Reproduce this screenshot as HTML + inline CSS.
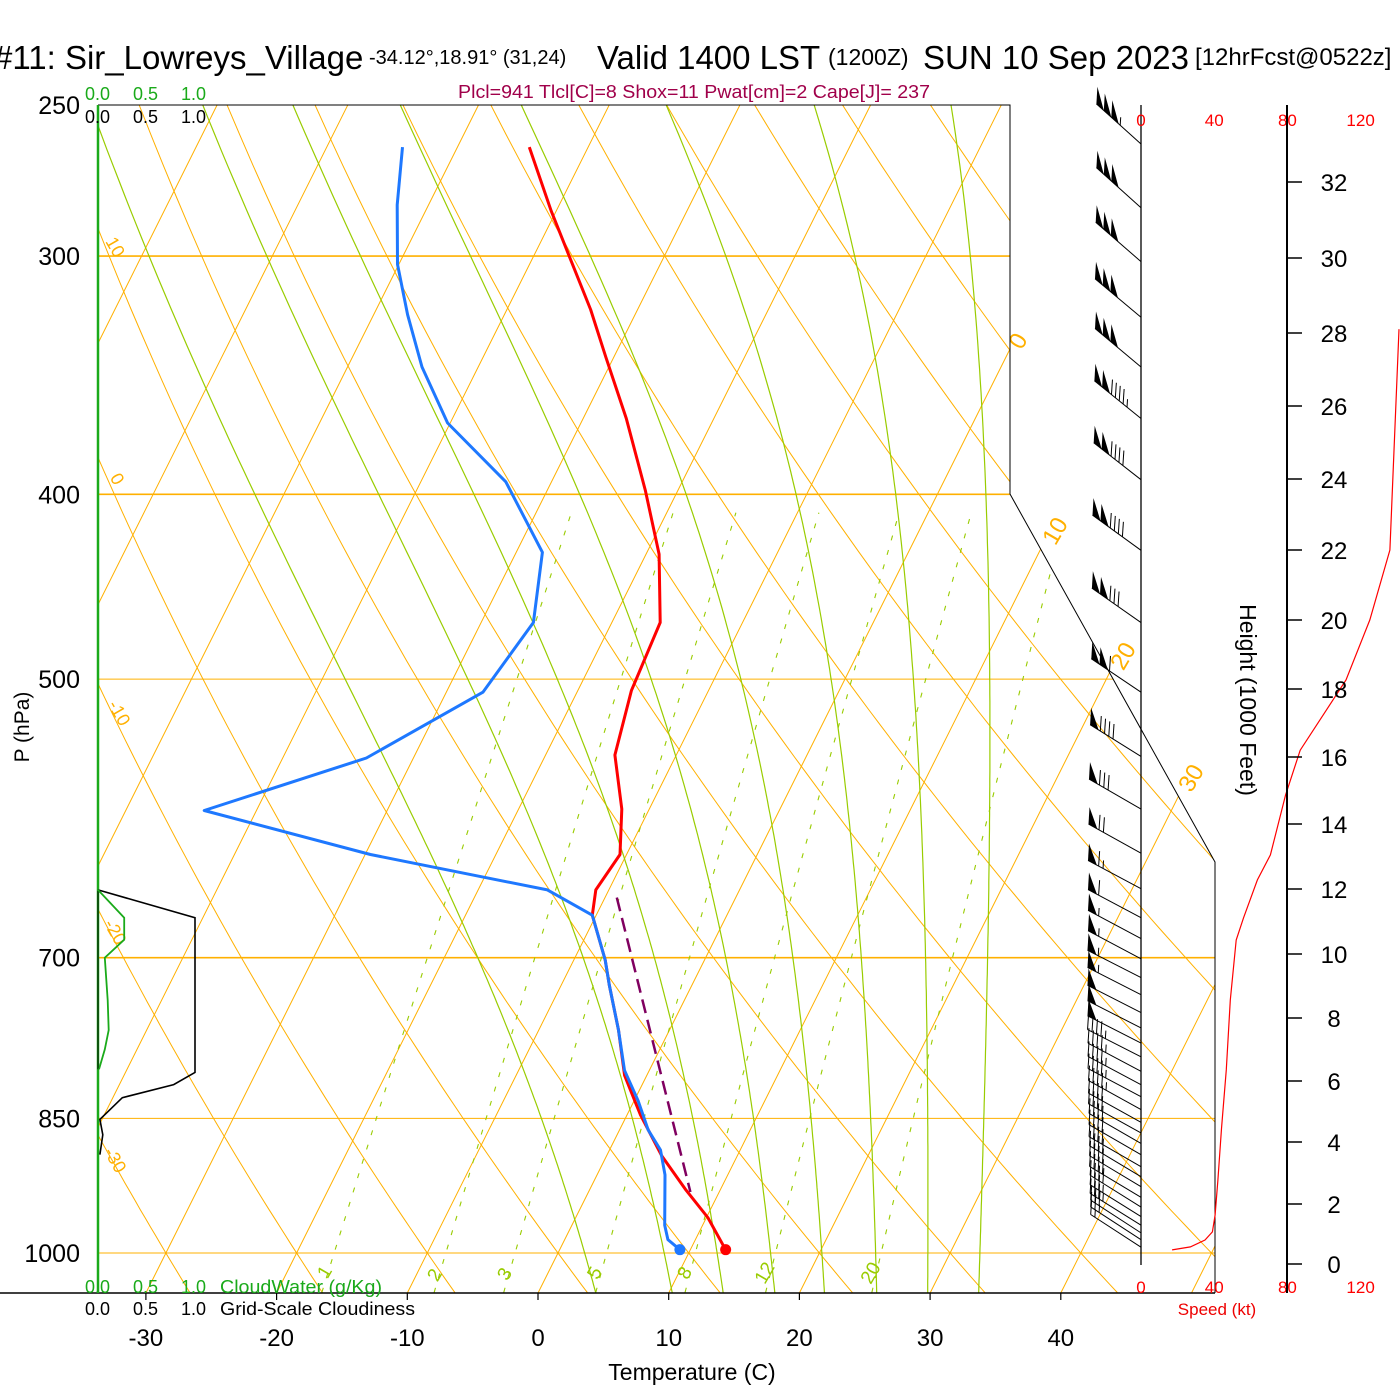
<!DOCTYPE html>
<html><head><meta charset="utf-8"><style>
html,body{margin:0;padding:0;background:#fff;}
svg{display:block;font-family:"Liberation Sans",sans-serif;}
</style></head><body>
<svg id="chart" width="1400" height="1400" viewBox="0 0 1400 1400" xmlns="http://www.w3.org/2000/svg">
<defs><clipPath id="bgclip"><polygon points="98,105 1010,105 1010,494 1215,862 1215,1293 98,1293"/></clipPath></defs>
<g id="bg" clip-path="url(#bgclip)"></g>
<g id="fg"></g>
<g>
<text x="-6" y="69" font-size="33">#11: Sir_Lowreys_Village</text>
<text x="369" y="64" font-size="20">-34.12°,18.91° (31,24)</text>
<text x="597" y="69" font-size="33">Valid 1400 LST</text>
<text x="828" y="65" font-size="23">(1200Z)</text>
<text x="923" y="69" font-size="33">SUN 10 Sep 2023</text>
<text x="1195" y="65" font-size="24">[12hrFcst@0522z]</text>
<text x="458" y="98" font-size="18" fill="#a0004a" textLength="472" lengthAdjust="spacingAndGlyphs">Plcl=941 Tlcl[C]=8 Shox=11 Pwat[cm]=2 Cape[J]= 237</text>
</g>
<g font-size="18">
<text x="85" y="100" fill="#1aaa1a">0.0</text>
<text x="133" y="100" fill="#1aaa1a">0.5</text>
<text x="181" y="100" fill="#1aaa1a">1.0</text>
<text x="85" y="123">0.0</text>
<text x="133" y="123">0.5</text>
<text x="181" y="123">1.0</text>
<text x="85" y="1293" fill="#1aaa1a">0.0</text>
<text x="133" y="1293" fill="#1aaa1a">0.5</text>
<text x="181" y="1293" fill="#1aaa1a">1.0</text>
<text x="220" y="1293" fill="#1aaa1a" textLength="162" lengthAdjust="spacingAndGlyphs">CloudWater (g/Kg)</text>
<text x="85" y="1315">0.0</text>
<text x="133" y="1315">0.5</text>
<text x="181" y="1315">1.0</text>
<text x="220" y="1315" textLength="195" lengthAdjust="spacingAndGlyphs">Grid-Scale Cloudiness</text>
</g>
<text x="0" y="0" font-size="21" transform="translate(29,727) rotate(-90)" text-anchor="middle">P (hPa)</text>
<text x="692" y="1380" font-size="23" text-anchor="middle">Temperature (C)</text>
<text x="1217" y="1315" font-size="17" fill="#e00" text-anchor="middle">Speed (kt)</text>
<text x="0" y="0" font-size="23" transform="translate(1240,700) rotate(90)" text-anchor="middle">Height (1000 Feet)</text>
</svg>
<script>
// ---- data ----
var pTemp=[996,958,927,889,846,807,764,724,702,665,645,618,585,548,507,467,430,398,365,339,320,302,284,263];
var tTemp=[12.7,10.1,7.4,4.2,1.0,-1.7,-3.9,-6.3,-7.6,-10.3,-11.0,-10.5,-12.1,-14.7,-15.9,-16.3,-19.0,-22.5,-26.7,-30.6,-33.6,-36.9,-40.4,-44.5];
var pDew=[996,984,967,910,883,862,832,802,764,724,702,665,645,618,586,550,508,467,429,394,367,343,322,303,282,263];
var tDew=[9.2,7.9,7.1,5.2,3.9,2.2,0.3,-1.9,-3.9,-6.3,-7.6,-10.3,-14.7,-29.6,-44.0,-33.6,-27.2,-26.0,-28.0,-33.5,-40.2,-44.3,-47.4,-50.1,-52.4,-54.2];
var pParcel=[651,929];
var tParcel=[-9.1,7.8];
var pressureTicks=[250,300,400,500,700,850,1000];
var tempTicks=[-30,-20,-10,0,10,20,30,40];
var isotherms=[-100,-90,-80,-70,-60,-50,-40,-30,-20,-10,0,10,20,30,40,50];
var dryAdiabats=[-30,-20,-10,0,10,20,30,40,50,60,70,80,90,100,110,120,130,140,150,160];
var moistStart=[4.4,10.25,14.15,18.1,21.9,25.9,29.8,33.7];
var mixRatios=[1,2,3,5,8,12,20];
var cloudP=[645,667,804,816,829,851,867,888];
var cloudFrac=[0,1,1,0.78,0.25,0.02,0.05,0.02];
var cwP=[645,667,685,700,737,764,782,801];
var cwVal=[0,0.27,0.27,0.07,0.1,0.11,0.07,0.01];
var barbP=[262,283,302,323,343,365,393,428,467,508,549,585,617,644,667,684,701,717,732,748,762,776,789,803,816,828,841,854,865,876,888,901,912,923,935,946,957,967,976,984,993];
var barbDir=[312,312,311,310,310,309,308,306,305,304,302,300,299,298,298,298,298,297,297,297,297,297,297,298,298,298,299,299,299,300,300,300,301,301,301,302,302,302,303,303,303];
var barbSpd=[155,150,150,150,150,145,140,140,130,110,90,80,70,65,60,55,55,55,55,52,50,48,47,46,45,44,43,42,42,41,41,40,40,40,40,39,37,35,30,24,17];
var heightTicks=[0,2,4,6,8,10,12,14,16,18,20,22,24,26,28,30,32];
var heightTickY=[1264,1204,1142,1081,1018,954,889,824,757,689,620,550,479,406,333,258,182];
var speedProfH=[0.47,0.57,0.8,1.07,1.63,2.77,4.44,6.36,8.56,10.43,11.11,12.28,13.05,14.87,16.2,18.26,20,22,28.1];
var speedProfV=[17,27,35,39,40.5,42,44,46.6,48.8,52,56,63.6,70.7,79,87,112,125,136,141];
var speedTicks=[0,40,80,120];

// ---- axes ----
var NS='http://www.w3.org/2000/svg';
function Y(p){return 1253+828*Math.log(p/1000);}
function X(T,p){return 538+13.07*T+0.5*(1293-Y(p));}
function SX(v){return 1141+v*1.83;}
function HY(h){for(var i=0;i<heightTicks.length-1;i++){if(h<=heightTicks[i+1]){var f=(h-heightTicks[i])/(heightTicks[i+1]-heightTicks[i]);return heightTickY[i]+f*(heightTickY[i+1]-heightTickY[i]);}}return heightTickY[heightTickY.length-1];}
var bg=document.getElementById('bg'),fg=document.getElementById('fg');
function mk(tag,attrs,parent){var e=document.createElementNS(NS,tag);for(var k in attrs)e.setAttribute(k,attrs[k]);(parent||fg).appendChild(e);return e;}
function pl(pts){return pts.map(function(q){return q[0].toFixed(1)+','+q[1].toFixed(1);}).join(' ');}
var PB=1049;
pressureTicks.forEach(function(p){
  var thick=(p==300||p==400||p==700);
  var x2=p>=700?1215:(p==500?1113:1010);
  if(p==250)return;
  var e=mk('line',{x1:98,y1:Y(p),x2:x2,y2:Y(p),stroke:'#ffb000','stroke-width':thick?1.6:1},bg);
  
  
});
isotherms.forEach(function(t){
  var e=mk('line',{x1:X(t,PB),y1:Y(PB),x2:X(t,250),y2:Y(250),stroke:'#ffb000','stroke-width':1},bg);
  
  
});
dryAdiabats.forEach(function(th){
  var pts=[];for(var p=PB;p>=240;p-=10){var T=(th+273.15)*Math.pow(p/1000,0.286)-273.15;pts.push([X(T,p),Y(p)]);}
  var e=mk('polyline',{points:pl(pts),fill:'none',stroke:'#ffb000','stroke-width':1},bg);
  
  
});
function es(Tc){return 6.112*Math.exp(17.67*Tc/(Tc+243.5));}
moistStart.forEach(function(t0){
  var T=t0+273.15,pts=[],p=PB;
  while(p>=240){pts.push([X(T-273.15,p),Y(p)]);
    var e_=es(T-273.15),rs=0.622*e_/(p-e_);
    var dTdp=(287*T+2.5e6*rs)/(p*(1004+2.5e6*2.5e6*rs*0.622/(287*T*T)));
    T-=dTdp*5;p-=5;}
  var e=mk('polyline',{points:pl(pts),fill:'none',stroke:'#99cc00','stroke-width':1.2},bg);
  
  
});
function tdFromW(w,p){var e=w*p/(622+w);var l=Math.log(e/6.112);return 243.5*l/(17.67-l);}
mixRatios.forEach(function(w){
  var pts=[];for(var p=PB;p>=400;p-=10)pts.push([X(tdFromW(w,p),p),Y(p)]);
  var e=mk('polyline',{points:pl(pts),fill:'none',stroke:'#99cc00','stroke-width':1.1,'stroke-dasharray':'5 10'},bg);
  
  
});
var dryLab=[['10',110,250],['0',112,482],['-10',114,716],['-20',110,935],['-30',110,1163]];
dryLab.forEach(function(d){var e=mk('text',{x:0,y:0,'font-size':18,fill:'#ffb000',transform:'translate('+d[1]+','+d[2]+') rotate(60)','text-anchor':'middle'});e.textContent=d[0];
  
  });
var isoLab=[['0',1025,345],['10',1062,535],['20',1130,660],['30',1198,782]];
isoLab.forEach(function(d){var e=mk('text',{x:0,y:0,'font-size':24,fill:'#ffb000',transform:'translate('+d[1]+','+d[2]+') rotate(-60)','text-anchor':'middle'});e.textContent=d[0];
  
  });
var mixLab=[['1',330,1275],['2',440,1278],['3',510,1277],['5',600,1276],['8',690,1276],['12',770,1276],['20',876,1276]];
mixLab.forEach(function(d){var e=mk('text',{x:0,y:0,'font-size':19,fill:'#99cc00',transform:'translate('+d[1]+','+d[2]+') rotate(-60)','text-anchor':'middle'});e.textContent=d[0];
  
  });

var fr=mk('polyline',{points:'98,105 1010,105 1010,494 1215,862 1215,1293',fill:'none',stroke:'#000','stroke-width':1});


var bx=mk('line',{x1:0,y1:1293,x2:1215,y2:1293,stroke:'#000','stroke-width':1.5});


var gl=mk('line',{x1:98,y1:105,x2:98,y2:1293,stroke:'#1aaa1a','stroke-width':2.5});


tempTicks.forEach(function(t){var x=538+13.07*t;
  var e=mk('line',{x1:x,y1:1293,x2:x,y2:1300,stroke:'#000','stroke-width':1.2});
  
  
  var l=mk('text',{x:x,y:1346,'font-size':24,'text-anchor':'middle'});l.textContent=t;
  
  });
pressureTicks.forEach(function(p){var l=mk('text',{x:80,y:Y(p)+9,'font-size':25,'text-anchor':'end'});l.textContent=p;
  
  });

var cpts=cloudP.map(function(p,i){return [98+97*cloudFrac[i],Y(p)];});
var cl=mk('polyline',{points:pl(cpts),fill:'none',stroke:'#000','stroke-width':1.6});


var cz=mk('line',{x1:98,y1:Y(645),x2:98,y2:Y(801),stroke:'#000','stroke-width':1});


var wpts=cwP.map(function(p,i){return [98+97*cwVal[i],Y(p)];});
var cw=mk('polyline',{points:pl(wpts),fill:'none',stroke:'#1aaa1a','stroke-width':1.8});



var tp=mk('polyline',{points:pl(pTemp.map(function(p,i){return [X(tTemp[i],p),Y(p)];})),fill:'none',stroke:'#ff0000','stroke-width':3,'stroke-linejoin':'round'});


var dp=mk('polyline',{points:pl(pDew.map(function(p,i){return [X(tDew[i],p),Y(p)];})),fill:'none',stroke:'#1e78ff','stroke-width':3,'stroke-linejoin':'round'});


var pp=mk('polyline',{points:pl(pParcel.map(function(p,i){return [X(tParcel[i],p),Y(p)];})),fill:'none',stroke:'#800060','stroke-width':2.5,'stroke-dasharray':'14 7'});


var td=mk('circle',{cx:X(tTemp[0],pTemp[0]),cy:Y(pTemp[0]),r:5.5,fill:'#ff0000'});


var dd=mk('circle',{cx:X(tDew[0],pDew[0]),cy:Y(pDew[0]),r:5.5,fill:'#1e78ff'});



var sl=mk('line',{x1:1141,y1:105,x2:1141,y2:1265,stroke:'#000','stroke-width':1.3});


barbP.forEach(function(p,i){
  var g=mk('g',{});
  
  
  var bx0=1141,by0=Y(p),a=barbDir[i]*Math.PI/180,ux=Math.sin(a),uy=-Math.cos(a),L=60;
  var tx=bx0+ux*L,ty=by0+uy*L;
  mk('line',{x1:bx0,y1:by0,x2:tx,y2:ty,stroke:'#000','stroke-width':1},g);
  var s=Math.round(barbSpd[i]/5)*5,pos=0;
  while(s>=50){var ax=tx-ux*pos,ay=ty-uy*pos,cx=tx-ux*(pos+10),cy=ty-uy*(pos+10);
    mk('polygon',{points:pl([[ax,ay],[cx,cy],[ax+1,ay-17]]),fill:'#000'},g);pos+=10;s-=50;}
  if(pos>0)pos+=2;
  while(s>=10){var fx=tx-ux*pos,fy=ty-uy*pos;mk('line',{x1:fx,y1:fy,x2:fx+1,y2:fy-15,stroke:'#000','stroke-width':1},g);pos+=5;s-=10;}
  if(s>=5){if(pos==0)pos=5;var hx=tx-ux*pos,hy=ty-uy*pos;mk('line',{x1:hx,y1:hy,x2:hx+0.5,y2:hy-8,stroke:'#000','stroke-width':1},g);}
});

speedTicks.forEach(function(v){
  [126,1293].forEach(function(yy){var l=mk('text',{x:SX(v),y:yy,'font-size':17,fill:'#ff0000','text-anchor':'middle'});l.textContent=v;
    
    });
});
var sp=mk('polyline',{points:pl(speedProfH.map(function(h,i){return [SX(speedProfV[i]),HY(h)];})),fill:'none',stroke:'#ff0000','stroke-width':1.2});


var ha=mk('line',{x1:1287,y1:105,x2:1287,y2:1293,stroke:'#000','stroke-width':2});


heightTicks.forEach(function(h){var y=HY(h);
  var t=mk('line',{x1:1287,y1:y,x2:1302,y2:y,stroke:'#000','stroke-width':1.5});
  
  
  var l=mk('text',{x:1334,y:y+9,'font-size':24,'text-anchor':'middle'});l.textContent=h;
  
  });
</script>
</body></html>
